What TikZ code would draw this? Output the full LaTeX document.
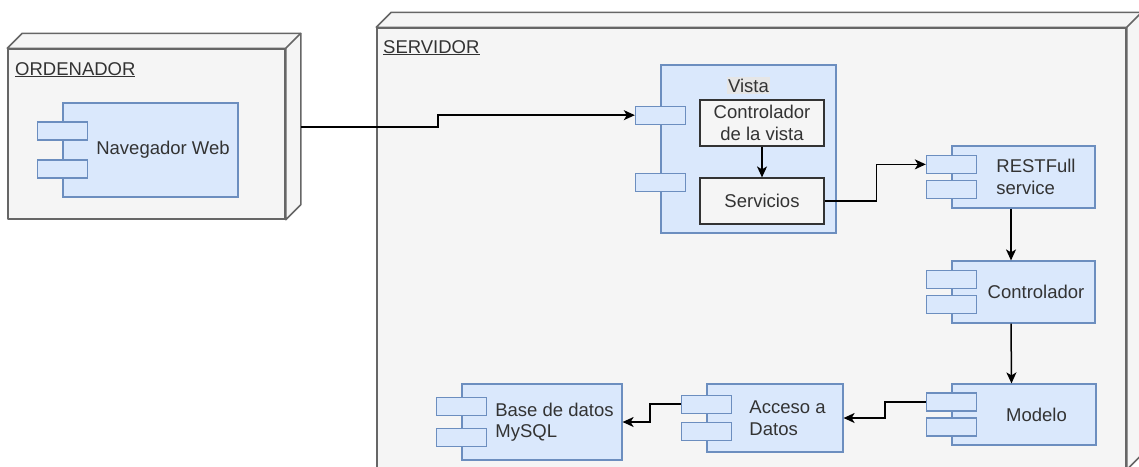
\documentclass[tikz,border=0pt]{standalone}
\usepackage{fontspec}
\setmainfont{Liberation Sans}
\usetikzlibrary{arrows.meta, positioning, calc}

\definecolor{azulfondo}{HTML}{DAE8FC}
\definecolor{azulborde}{HTML}{6C8EBF}
\definecolor{grisfondo}{HTML}{F5F5F5}
\definecolor{grisborde}{HTML}{666666}
\definecolor{gristexto}{HTML}{333333}
\definecolor{grisetiqueta}{HTML}{E6E6E6}

\tikzset{
  letra/.style={font=\fontsize{18.5}{21.5}\selectfont},
  texto/.style={letra, text=gristexto, align=left, inner sep=0pt},
  nodo/.style={draw=grisborde, fill=grisfondo, line width=1.5pt, line join=round, inner sep=0pt},
  componente/.style={draw=azulborde, fill=azulfondo, line width=1.2pt, inner sep=0pt},
  puerto/.style={draw=azulborde, fill=azulfondo, line width=1.2pt, minimum width=50pt, minimum height=18pt, inner sep=0pt},
  caja/.style={draw=gristexto, fill=grisfondo, line width=1.2pt, minimum width=124pt, minimum height=46pt, align=center, text=gristexto, letra, inner sep=0pt},
  etiq/.style={label={[texto, xshift=12.5pt]center:#1}},
  flecha/.style={line width=1.5pt, -{Stealth[length=11pt, width=10pt, inset=3pt]}},
}

\begin{document}
\begin{tikzpicture}[x=1pt, y=-1pt]
  \useasboundingbox (0,0) rectangle (1139,466);
  \clip (0,0) rectangle (1139,466);

  % Nodos (cajas 3D)
  \node[nodo, minimum width=277pt, minimum height=170pt] (ordenador) at (146.5,134) {};
  \draw[nodo] (ordenador.north west) -- ++(15,-15) -- ([shift={(15,-15)}]ordenador.north east)
    -- ([shift={(15,-15)}]ordenador.south east) -- (ordenador.south east) -- (ordenador.north east) -- cycle;
  \draw[nodo] (ordenador.north east) -- ++(15,-15);
  \node[texto, anchor=base west] (ord-txt) at (15,75) {\underline{ORDENADOR}};

  \node[nodo, minimum width=749pt, minimum height=441pt] (servidor) at (751.5,248.5) {};
  \draw[nodo] (servidor.north west) -- ++(15,-15) -- ([shift={(15,-15)}]servidor.north east)
    -- ([shift={(15,-15)}]servidor.south east) -- (servidor.south east) -- (servidor.north east) -- cycle;
  \draw[nodo] (servidor.north east) -- ++(15,-15);
  \node[texto, anchor=base west] (serv-txt) at (383,53) {\underline{SERVIDOR}};

  % Componentes
  \node[componente, etiq={Navegador Web}, minimum width=175pt, minimum height=94pt] (nav) at (150.5,150) {};
  \node[componente, minimum width=175pt, minimum height=168pt] (vista) at (748.5,149) {};
  \node[componente, etiq={RESTFull\\service}, minimum width=143pt, minimum height=62pt] (rest) at (1023.5,177) {};
  \node[componente, etiq={Controlador}, minimum width=143pt, minimum height=62pt] (ctrl) at (1023.5,292) {};
  \node[componente, etiq={Modelo}, minimum width=144pt, minimum height=61pt] (modelo) at (1024,414.5) {};
  \node[componente, etiq={Acceso a\\Datos}, minimum width=136pt, minimum height=68pt] (acceso) at (775,418) {};
  \node[componente, etiq={Base de datos\\MySQL}, minimum width=160pt, minimum height=76pt] (bd) at (542,422) {};

  \foreach \c in {nav,vista,rest,ctrl,modelo,acceso,bd} {
    \node[puerto] (\c-p1) at ($(\c.north west)!0.3!(\c.south west)$) {};
    \node[puerto] (\c-p2) at ($(\c.north west)!0.7!(\c.south west)$) {};
  }

  % Contenido de la vista
  \node[texto, fill=grisetiqueta, inner sep=1.5pt] (vista-txt) at ($(vista.north)+(0,21)$) {Vista};
  \node[caja] (ctrlvista) at (762,123) {Controlador\\de la vista};
  \node[caja] (servicios) at (762,201) {Servicios};

  % Conexiones
  \coordinate (ordsalida) at ($(ordenador.east)+(15,-7)$);
  \draw[flecha] (ordsalida) -- ++(137,0) |- (vista-p1.west);
  \draw[flecha] (ctrlvista) -- (servicios);
  \draw[flecha] (servicios.east) -- ++(52,0) |- (rest-p1.west);
  \draw[flecha] ([xshift=-12.5pt]rest.south) -- ([xshift=-12.5pt]ctrl.north);
  \draw[flecha] ([xshift=-12.5pt]ctrl.south) -- ([xshift=-12.5pt]modelo.north);
  \draw[flecha] (modelo-p1.west) -- ++(-41,0) |- (acceso.east);
  \draw[flecha] (acceso-p1.west) -- ++(-31,0) |- (bd.east);
\end{tikzpicture}
\end{document}
